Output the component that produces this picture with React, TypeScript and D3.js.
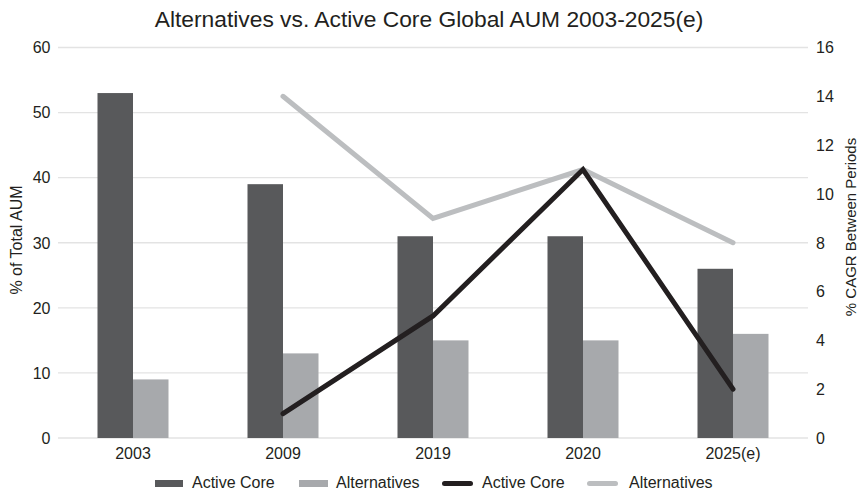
import React from "react";
import * as d3 from "d3";

const categories = ["2003", "2009", "2019", "2020", "2025(e)"];
const barActiveCore = [53, 39, 31, 31, 26];
const barAlternatives = [9, 13, 15, 15, 16];
const lineActiveCore: (number | null)[] = [null, 1, 5, 11, 2];
const lineAlternatives: (number | null)[] = [null, 14, 9, 11, 8];
const leftTicks = [0, 10, 20, 30, 40, 50, 60];
const rightTicks = [0, 2, 4, 6, 8, 10, 12, 14, 16];

const W = 860, H = 493;
const M = { left: 58, right: 808, top: 47.5, bottom: 438 };
const C = { darkBar: "#58595b", lightBar: "#a7a9ac", darkLine: "#231f20", lightLine: "#bcbec0", grid: "#e3e3e3", text: "#231f20" };
const FONT = "'Liberation Sans', Arial, Helvetica, sans-serif";

export default function App() {
  const x = d3.scaleBand().domain(categories).range([M.left, M.right]);
  const yL = d3.scaleLinear().domain([0, 60]).range([M.bottom, M.top]);
  const yR = d3.scaleLinear().domain([0, 16]).range([M.bottom, M.top]);
  const bw = 35.5;
  const cx = (c: string) => (x(c) as number) + x.bandwidth() / 2;

  const line = d3
    .line<number | null>()
    .defined((d) => d != null)
    .x((_, i) => cx(categories[i]))
    .y((d) => yR(d as number));

  const legend = [
    { type: "bar", color: C.darkBar, label: "Active Core", x0: 155, x1: 183, tx: 192 },
    { type: "bar", color: C.lightBar, label: "Alternatives", x0: 299, x1: 328, tx: 336 },
    { type: "line", color: C.darkLine, label: "Active Core", x0: 442, x1: 473, tx: 482 },
    { type: "line", color: C.lightLine, label: "Alternatives", x0: 587, x1: 618, tx: 629 },
  ];

  return (
    <svg width={W} height={H} style={{ position: "absolute", left: 0, top: 0, background: "#fff" }} fontFamily={FONT}>
      <text x={429} y={27} textAnchor="middle" fontSize={22.8} fill={C.text}>
        Alternatives vs. Active Core Global AUM 2003-2025(e)
      </text>
      {leftTicks.map((t) => (
        <g key={"l" + t}>
          <line x1={M.left} x2={M.right} y1={yL(t)} y2={yL(t)} stroke={C.grid} strokeWidth={1.3} />
          <text x={50.5} y={yL(t)} dy="0.36em" textAnchor="end" fontSize={16} fill={C.text}>{t}</text>
        </g>
      ))}
      {rightTicks.map((t) => (
        <text key={"r" + t} x={816} y={yR(t)} dy="0.36em" textAnchor="start" fontSize={16} fill={C.text}>{t}</text>
      ))}
      {categories.map((c, i) => (
        <g key={c}>
          <rect x={cx(c) - bw} y={yL(barActiveCore[i])} width={bw} height={M.bottom - yL(barActiveCore[i])} fill={C.darkBar} />
          <rect x={cx(c)} y={yL(barAlternatives[i])} width={bw} height={M.bottom - yL(barAlternatives[i])} fill={C.lightBar} />
          <text x={cx(c)} y={459} textAnchor="middle" fontSize={16} fill={C.text}>{c}</text>
        </g>
      ))}
      <path d={line(lineAlternatives) || ""} fill="none" stroke={C.lightLine} strokeWidth={5} strokeLinecap="round" strokeLinejoin="miter" />
      <path d={line(lineActiveCore) || ""} fill="none" stroke={C.darkLine} strokeWidth={5} strokeLinecap="round" strokeLinejoin="miter" />
      <text transform={`translate(21.5,240) rotate(-90)`} textAnchor="middle" fontSize={16} fill={C.text}>% of Total AUM</text>
      <text transform={`translate(856,227) rotate(-90)`} textAnchor="middle" fontSize={15} fill={C.text}>% CAGR Between  Periods</text>
      {legend.map((l, i) => (
        <g key={i}>
          {l.type === "bar" ? (
            <rect x={l.x0} y={480} width={l.x1 - l.x0} height={7} fill={l.color} />
          ) : (
            <line x1={l.x0 + 2.5} x2={l.x1 - 2.5} y1={483.5} y2={483.5} stroke={l.color} strokeWidth={5} strokeLinecap="round" />
          )}
          <text x={l.tx} y={487.5} fontSize={16} fill={C.text}>{l.label}</text>
        </g>
      ))}
    </svg>
  );
}
